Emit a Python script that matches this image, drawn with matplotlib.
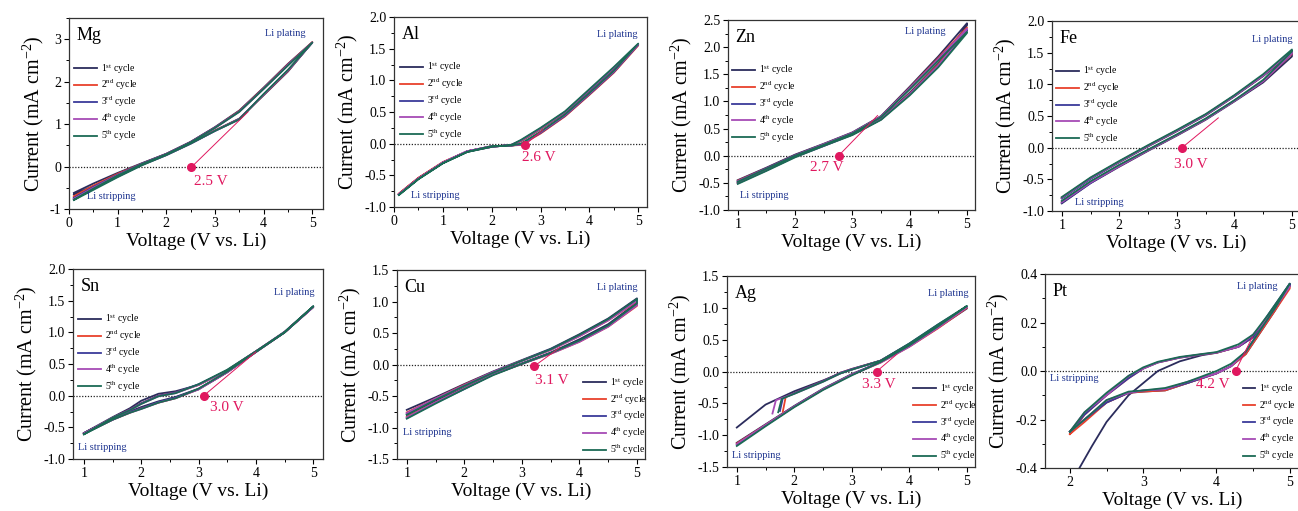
import matplotlib.pyplot as plt
from matplotlib.ticker import MultipleLocator, FormatStrFormatter

plt.rcParams['font.family'] = 'Liberation Serif'
plt.rcParams['mathtext.fontset'] = 'custom'
plt.rcParams['mathtext.rm'] = 'Liberation Serif'
plt.rcParams['mathtext.it'] = 'Liberation Serif:italic'
plt.rcParams['axes.unicode_minus'] = False

cycle_labels = [r'1$^{\rm st}$ cycle', r'2$^{\rm nd}$ cycle', r'3$^{\rm rd}$ cycle',
                r'4$^{\rm th}$ cycle', r'5$^{\rm th}$ cycle']
colors = ['#2b2c5c', '#e8412c', '#3a3a9a', '#a64bb5', '#1b6a55']
pink = '#e0185f'
navy = '#1f3590'

metals = ['Mg', 'Al', 'Zn', 'Fe', 'Sn', 'Cu', 'Ag', 'Pt']
onset_text = ['2.5 V', '2.6 V', '2.7 V', '3.0 V', '3.0 V', '3.1 V', '3.3 V', '4.2 V']
onset_v = [2.51, 2.68, 2.76, 3.09, 3.09, 3.21, 3.43, 4.26]
onset_i = [-0.02, -0.02, 0.0, 0.0, 0.0, -0.03, 0.0, 0.0]
tangent_v = [3.68, 3.05, 3.44, 3.72, 4.0, 3.66, 3.78, 4.49]
tangent_i = [1.29, 0.22, 0.74, 0.47, 0.69, 0.27, 0.27, 0.14]

# ---- Mg ----
mg_v = [0.1, 0.5, 1.0, 1.5, 2.0, 2.5, 3.0, 3.5, 4.0, 4.5, 5.0]
mg_up = [
    [-0.62, -0.40, -0.15, 0.08, 0.30, 0.58, 0.93, 1.32, 1.86, 2.42, 2.93],
    [-0.70, -0.45, -0.17, 0.07, 0.30, 0.58, 0.92, 1.31, 1.85, 2.41, 2.93],
    [-0.74, -0.48, -0.19, 0.07, 0.30, 0.58, 0.92, 1.30, 1.84, 2.40, 2.92],
    [-0.76, -0.50, -0.20, 0.06, 0.29, 0.57, 0.91, 1.29, 1.83, 2.39, 2.92],
    [-0.78, -0.52, -0.21, 0.06, 0.29, 0.57, 0.91, 1.29, 1.83, 2.38, 2.92],
]
mg_dn = [
    [-0.66, -0.46, -0.20, 0.05, 0.28, 0.55, 0.85, 1.13, 1.68, 2.24, 2.93],
    [-0.72, -0.49, -0.22, 0.05, 0.28, 0.55, 0.85, 1.12, 1.69, 2.25, 2.93],
    [-0.75, -0.51, -0.23, 0.04, 0.27, 0.54, 0.84, 1.12, 1.70, 2.26, 2.92],
    [-0.77, -0.53, -0.24, 0.04, 0.27, 0.54, 0.84, 1.11, 1.70, 2.27, 2.92],
    [-0.79, -0.55, -0.25, 0.03, 0.27, 0.54, 0.84, 1.11, 1.71, 2.28, 2.92],
]

# ---- Al ----
al_v = [0.1, 0.5, 1.0, 1.5, 2.0, 2.4, 2.6, 3.0, 3.5, 4.0, 4.5, 5.0]
al_up = [
    [-0.80, -0.55, -0.30, -0.13, -0.05, -0.02, 0.04, 0.23, 0.49, 0.84, 1.19, 1.57],
    [-0.79, -0.54, -0.30, -0.12, -0.05, -0.02, 0.04, 0.23, 0.49, 0.83, 1.18, 1.55],
    [-0.80, -0.55, -0.30, -0.12, -0.05, -0.02, 0.05, 0.24, 0.50, 0.84, 1.19, 1.56],
    [-0.80, -0.55, -0.30, -0.12, -0.05, -0.02, 0.05, 0.24, 0.50, 0.85, 1.20, 1.57],
    [-0.81, -0.56, -0.31, -0.13, -0.05, -0.02, 0.06, 0.25, 0.51, 0.86, 1.21, 1.58],
]
al_dn = [
    [-0.80, -0.55, -0.30, -0.12, -0.04, -0.03, -0.01, 0.17, 0.44, 0.78, 1.13, 1.57],
    [-0.79, -0.54, -0.29, -0.12, -0.04, -0.03, -0.02, 0.16, 0.43, 0.77, 1.12, 1.55],
    [-0.80, -0.55, -0.30, -0.12, -0.04, -0.03, -0.01, 0.17, 0.44, 0.78, 1.13, 1.56],
    [-0.80, -0.55, -0.30, -0.12, -0.04, -0.03, -0.01, 0.18, 0.45, 0.79, 1.14, 1.57],
    [-0.81, -0.56, -0.31, -0.13, -0.04, -0.03, 0.00, 0.19, 0.46, 0.80, 1.15, 1.58],
]

# ---- Zn ----
zn_v = [1.0, 1.5, 2.0, 2.5, 3.0, 3.5, 4.0, 4.5, 5.0]
zn_up = [
    [-0.45, -0.22, 0.02, 0.22, 0.43, 0.73, 1.27, 1.83, 2.44],
    [-0.46, -0.23, 0.01, 0.21, 0.42, 0.72, 1.25, 1.80, 2.36],
    [-0.47, -0.23, 0.01, 0.21, 0.42, 0.72, 1.24, 1.78, 2.32],
    [-0.47, -0.24, 0.00, 0.21, 0.42, 0.72, 1.24, 1.78, 2.34],
    [-0.48, -0.24, 0.00, 0.20, 0.41, 0.71, 1.22, 1.75, 2.28],
]
zn_dn = [
    [-0.49, -0.26, -0.01, 0.19, 0.40, 0.68, 1.16, 1.70, 2.40],
    [-0.50, -0.26, -0.01, 0.19, 0.39, 0.67, 1.14, 1.68, 2.36],
    [-0.50, -0.27, -0.02, 0.18, 0.39, 0.67, 1.13, 1.66, 2.30],
    [-0.51, -0.27, -0.02, 0.18, 0.39, 0.67, 1.13, 1.66, 2.33],
    [-0.52, -0.28, -0.03, 0.18, 0.38, 0.66, 1.11, 1.63, 2.26],
]

# ---- Fe ----
fe_v = [1.0, 1.5, 2.0, 2.5, 3.0, 3.5, 4.0, 4.5, 5.0]
fe_up = [
    [-0.80, -0.49, -0.23, 0.02, 0.26, 0.51, 0.81, 1.13, 1.50],
    [-0.79, -0.48, -0.22, 0.03, 0.27, 0.52, 0.82, 1.14, 1.52],
    [-0.80, -0.49, -0.22, 0.03, 0.27, 0.52, 0.82, 1.14, 1.53],
    [-0.79, -0.48, -0.22, 0.03, 0.27, 0.52, 0.82, 1.14, 1.53],
    [-0.78, -0.47, -0.21, 0.04, 0.28, 0.53, 0.83, 1.16, 1.55],
]
fe_dn = [
    [-0.88, -0.56, -0.30, -0.05, 0.19, 0.44, 0.73, 1.03, 1.44],
    [-0.86, -0.55, -0.29, -0.04, 0.20, 0.45, 0.74, 1.05, 1.48],
    [-0.87, -0.56, -0.29, -0.04, 0.20, 0.45, 0.74, 1.05, 1.49],
    [-0.86, -0.55, -0.29, -0.04, 0.20, 0.45, 0.74, 1.05, 1.49],
    [-0.84, -0.53, -0.27, -0.03, 0.21, 0.46, 0.75, 1.07, 1.52],
]

# ---- Sn ----
sn_v = [1.0, 1.5, 1.8, 2.0, 2.3, 2.6, 3.0, 3.5, 4.0, 4.5, 5.0]
sn_up = [
    [-0.59, -0.34, -0.20, -0.08, 0.03, 0.07, 0.17, 0.40, 0.70, 1.01, 1.41],
    [-0.60, -0.35, -0.22, -0.12, 0.00, 0.05, 0.17, 0.40, 0.70, 1.00, 1.40],
    [-0.60, -0.35, -0.22, -0.12, 0.00, 0.05, 0.18, 0.40, 0.70, 1.00, 1.40],
    [-0.60, -0.35, -0.23, -0.13, -0.01, 0.04, 0.17, 0.40, 0.70, 1.00, 1.40],
    [-0.61, -0.35, -0.23, -0.13, -0.01, 0.04, 0.18, 0.41, 0.70, 1.00, 1.41],
]
sn_dn = [
    [-0.59, -0.37, -0.25, -0.18, -0.09, -0.02, 0.11, 0.37, 0.69, 1.00, 1.41],
    [-0.60, -0.38, -0.27, -0.20, -0.11, -0.04, 0.10, 0.37, 0.69, 1.00, 1.40],
    [-0.60, -0.38, -0.26, -0.20, -0.10, -0.03, 0.10, 0.37, 0.69, 1.00, 1.40],
    [-0.60, -0.38, -0.27, -0.21, -0.11, -0.04, 0.10, 0.37, 0.69, 1.00, 1.40],
    [-0.61, -0.38, -0.27, -0.21, -0.11, -0.04, 0.11, 0.38, 0.69, 1.00, 1.41],
]

# ---- Cu ----
cu_v = [1.0, 1.5, 2.0, 2.5, 3.0, 3.5, 4.0, 4.5, 5.0]
cu_up = [
    [-0.72, -0.52, -0.31, -0.11, 0.07, 0.25, 0.48, 0.73, 1.05],
    [-0.76, -0.54, -0.32, -0.12, 0.06, 0.23, 0.45, 0.70, 1.00],
    [-0.78, -0.55, -0.33, -0.12, 0.06, 0.24, 0.46, 0.71, 1.03],
    [-0.77, -0.54, -0.33, -0.12, 0.06, 0.23, 0.45, 0.70, 1.01],
    [-0.80, -0.56, -0.34, -0.13, 0.06, 0.24, 0.47, 0.72, 1.04],
]
cu_dn = [
    [-0.80, -0.58, -0.37, -0.15, 0.02, 0.19, 0.40, 0.64, 0.98],
    [-0.83, -0.60, -0.38, -0.16, 0.01, 0.17, 0.36, 0.60, 0.93],
    [-0.85, -0.61, -0.39, -0.16, 0.01, 0.18, 0.37, 0.61, 0.95],
    [-0.84, -0.60, -0.38, -0.16, 0.01, 0.17, 0.36, 0.60, 0.94],
    [-0.86, -0.62, -0.39, -0.17, 0.01, 0.18, 0.38, 0.62, 0.97],
]

# ---- Ag ----
ag_up_v = [
    [1.00, 1.50, 2.0, 2.5, 2.8, 3.0, 3.5, 4.0, 4.5, 5.0],
    [1.80, 1.85, 2.0, 2.5, 2.8, 3.0, 3.5, 4.0, 4.5, 5.0],
    [1.75, 1.80, 2.0, 2.5, 2.8, 3.0, 3.5, 4.0, 4.5, 5.0],
    [1.62, 1.68, 2.0, 2.5, 2.8, 3.0, 3.5, 4.0, 4.5, 5.0],
    [1.72, 1.78, 2.0, 2.5, 2.8, 3.0, 3.5, 4.0, 4.5, 5.0],
]
ag_up = [
    [-0.88, -0.52, -0.31, -0.14, -0.03, 0.03, 0.17, 0.43, 0.73, 0.99],
    [-0.63, -0.40, -0.34, -0.15, -0.02, 0.04, 0.17, 0.43, 0.72, 1.00],
    [-0.62, -0.42, -0.34, -0.15, -0.02, 0.04, 0.17, 0.44, 0.74, 1.02],
    [-0.66, -0.45, -0.35, -0.16, -0.03, 0.03, 0.17, 0.43, 0.73, 1.01],
    [-0.64, -0.43, -0.35, -0.16, -0.03, 0.03, 0.17, 0.44, 0.74, 1.03],
]
ag_dn_v = [1.0, 1.5, 2.0, 2.5, 3.0, 3.5, 4.0, 4.5, 5.0]
ag_dn = [
    [-1.12, -0.83, -0.54, -0.27, -0.04, 0.15, 0.40, 0.69, 0.99],
    [-1.13, -0.84, -0.55, -0.28, -0.05, 0.14, 0.39, 0.68, 1.00],
    [-1.15, -0.85, -0.55, -0.28, -0.05, 0.15, 0.40, 0.70, 1.02],
    [-1.14, -0.84, -0.55, -0.28, -0.05, 0.14, 0.39, 0.69, 1.01],
    [-1.17, -0.86, -0.56, -0.29, -0.06, 0.15, 0.41, 0.71, 1.03],
]

# ---- Pt ----
pt_up_v = [
    [2.13, 2.3, 2.5, 2.8, 3.0, 3.2, 3.5, 3.8, 4.0, 4.3, 4.5, 4.7, 5.0],
    [2.0, 2.2, 2.5, 2.8, 3.0, 3.2, 3.5, 3.8, 4.0, 4.3, 4.5, 4.7, 5.0],
    [2.0, 2.2, 2.5, 2.8, 3.0, 3.2, 3.5, 3.8, 4.0, 4.3, 4.5, 4.7, 5.0],
    [2.0, 2.2, 2.5, 2.8, 3.0, 3.2, 3.5, 3.8, 4.0, 4.3, 4.5, 4.7, 5.0],
    [2.0, 2.2, 2.5, 2.8, 3.0, 3.2, 3.5, 3.8, 4.0, 4.3, 4.5, 4.7, 5.0],
]
pt_up = [
    [-0.40, -0.31, -0.21, -0.10, -0.05, 0.00, 0.04, 0.065, 0.075, 0.10, 0.14, 0.22, 0.36],
    [-0.26, -0.18, -0.10, -0.03, 0.01, 0.035, 0.055, 0.068, 0.075, 0.10, 0.14, 0.22, 0.35],
    [-0.25, -0.18, -0.10, -0.03, 0.01, 0.035, 0.055, 0.068, 0.076, 0.10, 0.14, 0.23, 0.36],
    [-0.25, -0.17, -0.10, -0.02, 0.01, 0.036, 0.056, 0.069, 0.076, 0.10, 0.15, 0.22, 0.35],
    [-0.25, -0.17, -0.09, -0.02, 0.015, 0.038, 0.058, 0.070, 0.078, 0.11, 0.15, 0.23, 0.36],
]
pt_dn_v = [2.0, 2.2, 2.5, 2.8, 3.0, 3.3, 3.6, 4.0, 4.2, 4.4, 4.6, 4.8, 5.0]
pt_dn = [
    [-0.25, -0.20, -0.13, -0.09, -0.085, -0.08, -0.05, -0.01, 0.02, 0.07, 0.16, 0.25, 0.35],
    [-0.26, -0.21, -0.13, -0.09, -0.085, -0.08, -0.05, -0.01, 0.02, 0.07, 0.16, 0.25, 0.34],
    [-0.25, -0.20, -0.13, -0.09, -0.080, -0.075, -0.05, -0.01, 0.02, 0.08, 0.17, 0.26, 0.35],
    [-0.25, -0.20, -0.12, -0.09, -0.080, -0.075, -0.045, -0.01, 0.02, 0.08, 0.17, 0.26, 0.35],
    [-0.25, -0.20, -0.12, -0.085, -0.080, -0.070, -0.045, 0.00, 0.03, 0.08, 0.17, 0.26, 0.36],
]

W, H = 1298, 511
fig = plt.figure(figsize=(W / 100, H / 100), dpi=100)


def box(l, t, w, h):
    return [l / W, 1 - (t + h) / H, w / W, h / H]


def loops_same(v, up, dn):
    return [(v, u, v, d) for u, d in zip(up, dn)]


def loops_own(uv, up, dv, dn):
    return [(a, u, dv, d) for a, u, d in zip(uv, up, dn)]


def panel(k, rect, loops, xlim, ylim, ystep, yfmt, text_at, text_ha,
          legend_loc, legend_at, plating_at, stripping_at, handlelen=2.4):
    ax = fig.add_axes(rect)
    for c, (xu, yu, xd, yd) in enumerate(loops):
        ax.plot(list(xu) + list(xd)[::-1], list(yu) + list(yd)[::-1],
                color=colors[c], lw=1.3, label=cycle_labels[c])
    ax.axhline(0, color='#222222', lw=0.9, ls=(0, (1, 1.3)), zorder=1)
    ax.plot([onset_v[k], tangent_v[k]], [onset_i[k], tangent_i[k]], color=pink, lw=0.7, zorder=6)
    ax.plot(onset_v[k], onset_i[k], 'o', color=pink, ms=5.5, zorder=7)
    ax.text(text_at[0], text_at[1], onset_text[k], color=pink, fontsize=11,
            ha=text_ha, va='center', zorder=8)
    ax.set_xlim(*xlim)
    ax.set_ylim(*ylim)
    ax.xaxis.set_major_locator(MultipleLocator(1))
    ax.xaxis.set_minor_locator(MultipleLocator(0.5))
    ax.yaxis.set_major_locator(MultipleLocator(ystep))
    ax.yaxis.set_minor_locator(MultipleLocator(ystep / 2))
    ax.yaxis.set_major_formatter(FormatStrFormatter(yfmt))
    ax.tick_params(which='major', direction='out', length=3.5, width=0.8, labelsize=10, pad=2)
    ax.tick_params(which='minor', direction='out', length=2, width=0.7)
    for s in ax.spines.values():
        s.set_linewidth(0.9)
        s.set_color('#333333')
    ax.set_xlabel('Voltage (V vs. Li)', fontsize=14, labelpad=2)
    ax.set_ylabel('Current (mA cm$^{-2}$)', fontsize=14.5, labelpad=3)
    ax.text(0.03, 0.91, metals[k], transform=ax.transAxes, fontsize=13, ha='left', va='center')
    ax.text(plating_at[0], plating_at[1], 'Li plating', transform=ax.transAxes, color=navy,
            fontsize=7.5, ha='right', va='center')
    ax.text(stripping_at[0], stripping_at[1], 'Li stripping', transform=ax.transAxes, color=navy,
            fontsize=7.5, ha='left', va='center')
    ax.legend(loc=legend_loc, bbox_to_anchor=legend_at, frameon=False, fontsize=7,
              handlelength=handlelen, handletextpad=0.4, labelspacing=0.25,
              borderpad=0, borderaxespad=0)
    return ax


panel(0, box(69, 18, 254, 191), loops_same(mg_v, mg_up, mg_dn), (0, 5.22), (-1, 3.5), 1, '%d',
      (2.57, -0.35), 'left', 'upper left', (0.02, 0.77), (0.933, 0.92), (0.071, 0.063))
panel(1, box(394, 17, 253, 190), loops_same(al_v, al_up, al_dn), (0, 5.18), (-1, 2), 0.5, '%.1f',
      (2.62, -0.22), 'left', 'upper left', (0.024, 0.77), (0.964, 0.91), (0.067, 0.058))
panel(2, box(728, 20, 247, 190), loops_same(zn_v, zn_up, zn_dn), (0.83, 5.14), (-1, 2.5), 0.5, '%.1f',
      (2.56, -0.22), 'center', 'upper left', (0.016, 0.77), (0.883, 0.937), (0.049, 0.074))
panel(3, box(1052, 21, 248, 190), loops_same(fe_v, fe_up, fe_dn), (0.83, 5.14), (-1, 2), 0.5, '%.1f',
      (3.24, -0.27), 'center', 'upper left', (0.016, 0.77), (0.97, 0.905), (0.093, 0.047))
panel(4, box(73, 269, 250, 190), loops_same(sn_v, sn_up, sn_dn), (0.81, 5.17), (-1, 2), 0.5, '%.1f',
      (3.5, -0.19), 'center', 'upper left', (0.02, 0.77), (0.968, 0.874), (0.02, 0.058))
panel(5, box(397, 270, 248, 189), loops_same(cu_v, cu_up, cu_dn), (0.83, 5.14), (-1.5, 1.5), 0.5, '%.1f',
      (3.52, -0.26), 'center', 'lower left', (0.75, 0.01), (0.97, 0.91), (0.024, 0.138))
panel(6, box(727, 276, 248, 191), loops_own(ag_up_v, ag_up, ag_dn_v, ag_dn), (0.83, 5.14), (-1.5, 1.5), 0.5,
      '%.1f', (3.47, -0.2), 'center', 'lower left', (0.75, 0.02), (0.976, 0.906), (0.02, 0.058))
panel(7, box(1045, 274, 255, 194), loops_own(pt_up_v, pt_up, pt_dn_v, pt_dn), (1.66, 5.14), (-0.4, 0.4), 0.2,
      '%.1f', (4.18, -0.055), 'right', 'lower left', (0.775, 0.025), (0.912, 0.933), (0.02, 0.46),
      handlelen=1.3)

fig.savefig('out.png', dpi=100)
